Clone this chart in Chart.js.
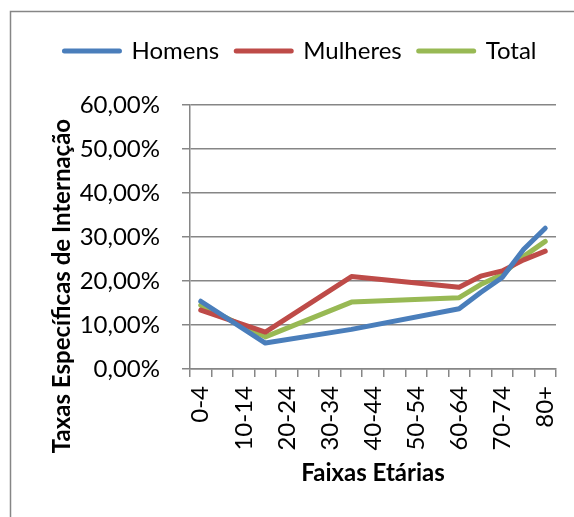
<!DOCTYPE html>
<html>
<head>
<meta charset="utf-8">
<script src="https://cdn.jsdelivr.net/npm/chart.js@4/dist/chart.umd.min.js"></script>
<style>
  html, body { margin: 0; padding: 0; background: #fff; }
  #wrap { position: relative; width: 574px; height: 517px; }
</style>
</head>
<body>
<div id="wrap"><canvas id="myChart" width="574" height="517"></canvas></div>
<script>
// Dados
var faixas = ["0-4", "5-9", "10-14", "15-19", "20-24", "25-29", "30-34", "35-39", "40-44",
              "45-49", "50-54", "55-59", "60-64", "65-69", "70-74", "75-79", "80+"];
var homens   = [15.4, null, null, 5.9, null, null, null, 9.0, null, null, null, null, 13.7, 17.4, 20.8, 27.2, 32.0];
var mulheres = [13.4, null, null, 8.4, null, null, null, 21.0, null, null, null, null, 18.6, 21.1, 22.3, 24.8, 26.8];
var total    = [14.5, null, null, 7.3, null, null, null, 15.2, null, null, null, null, 16.2, 19.2, 21.5, 25.6, 29.0];
var yTicks = [0, 10, 20, 30, 40, 50, 60];

var font = "Lato";
var gray = "#868686";

// moldura, espaco da legenda e titulo do eixo Y
var framePlugin = {
  id: "frame",
  beforeInit: function(chart) {
    var fit = chart.legend.fit;
    chart.legend.fit = function() {
      fit.call(this);
      this.height += 32;
    };
  },
  beforeDraw: function(chart) {
    var ctx = chart.ctx;
    ctx.save();
    ctx.strokeStyle = gray;
    ctx.lineWidth = 1.5;
    ctx.beginPath();
    ctx.moveTo(10.5, 520);
    ctx.lineTo(10.5, 11.5);
    ctx.lineTo(580, 11.5);
    ctx.stroke();
    ctx.restore();
  },
  afterDraw: function(chart) {
    var ctx = chart.ctx;
    ctx.save();
    ctx.translate(62, 286);
    ctx.rotate(-Math.PI / 2);
    ctx.font = "bold 24px " + font;
    ctx.fillStyle = "#000";
    ctx.textAlign = "center";
    ctx.textBaseline = "middle";
    ctx.fillText("Taxas Específicas de Internação", 0, 0);
    ctx.restore();
  }
};

new Chart("myChart", {
  type: "line",
  data: {
    labels: faixas,
    datasets: [
      { label: "Homens", data: homens, borderColor: "#4A7EBB", backgroundColor: "#4A7EBB" },
      { label: "Mulheres", data: mulheres, borderColor: "#BE4B48", backgroundColor: "#BE4B48" },
      { label: "Total", data: total, borderColor: "#98B954", backgroundColor: "#98B954" }
    ]
  },
  options: {
    responsive: false,
    animation: false,
    spanGaps: true,
    elements: {
      line: { borderWidth: 5, tension: 0, borderCapStyle: "round", borderJoinStyle: "round" },
      point: { radius: 0, hoverRadius: 0 }
    },
    layout: { padding: { left: 45, right: 18, top: 22, bottom: 29 } },
    plugins: {
      legend: {
        position: "top",
        labels: {
          usePointStyle: true,
          pointStyle: "line",
          pointStyleWidth: 55,
          padding: 17,
          color: "#000",
          font: { family: font, size: 24 },
          generateLabels: function(chart) {
            var items = Chart.defaults.plugins.legend.labels.generateLabels(chart);
            items.forEach(function(it) { it.lineWidth = 5; it.lineCap = "round"; });
            return items;
          }
        }
      },
      tooltip: { enabled: false }
    },
    scales: {
      x: {
        offset: true,
        grid: { offset: true, drawOnChartArea: false, color: gray, lineWidth: 1.5, tickLength: 8 },
        border: { color: gray, width: 1.5 },
        ticks: {
          autoSkip: false,
          maxRotation: 90,
          minRotation: 90,
          padding: 9,
          color: "#000",
          font: { family: font, size: 24 },
          callback: function(v, i) { return i % 2 ? "" : faixas[i]; }
        },
        title: {
          display: true,
          text: "Faixas Etárias",
          color: "#000",
          font: { family: font, size: 24, weight: "bold" },
          padding: { top: 4, bottom: 0 }
        },
        afterFit: function(s) {
          s.height = 119;
          s.paddingLeft = 0;
          s.paddingRight = 0;
        }
      },
      y: {
        min: 0,
        max: 60,
        afterBuildTicks: function(s) { s.ticks = yTicks.map(function(v) { return { value: v }; }); },
        grid: { color: gray, lineWidth: 1.5, tickLength: 8 },
        border: { color: gray, width: 1.5 },
        ticks: {
          padding: 22,
          color: "#000",
          font: { family: font, size: 24 },
          callback: function(v) { return v.toFixed(2).replace(".", ",") + "%"; }
        },
        afterFit: function(s) { s.width = 145; }
      }
    }
  },
  plugins: [framePlugin]
});
</script>
</body>
</html>
